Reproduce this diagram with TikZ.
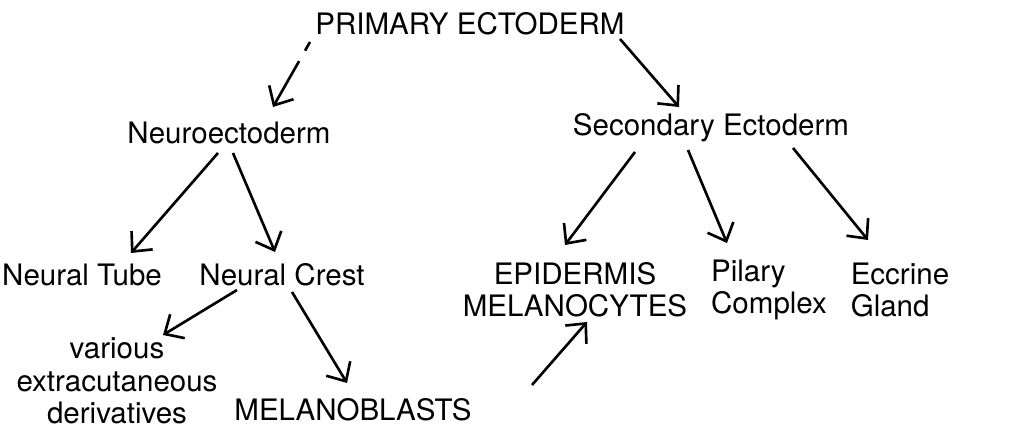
\documentclass[tikz,border=0pt]{standalone}
\usepackage{fontspec}
\setmainfont{TeX Gyre Heros}
\usepackage{tikz}
\usetikzlibrary{arrows.meta}

\begin{document}
\begin{tikzpicture}[
    lbl/.style={inner sep=0pt, align=center, font=\fontsize{8.4}{9.2}\selectfont},
    lbll/.style={lbl, align=left},
    arrow/.style={-{Straight Barb[length=1.5mm, width=2.8mm]}, line width=0.75pt}
]
\useasboundingbox (0,0) rectangle (10.12,4.30);

% Nodes
\node[lbl] (prim) at (4.70, 4.06) {PRIMARY ECTODERM};
\node[lbl] (neuro) at (2.29, 2.97) {Neuroectoderm};
\node[lbl] (second) at (7.11, 3.02) {Secondary Ectoderm};

\node[lbl] (tube) at (0.82, 1.55) {Neural Tube};
\node[lbl] (crest) at (2.82, 1.55) {Neural Crest};
\node[lbl] (epid) at (5.75, 1.40) {EPIDERMIS\\MELANOCYTES};
\node[lbll] (pilary) at (7.69, 1.40) {Pilary\\Complex};
\node[lbll] (eccrine) at (9.00, 1.40) {Eccrine\\Gland};

\node[lbl] (various) at (1.17, 0.49) {various\\extracutaneous\\derivatives};
\node[lbl] (blasts) at (3.53, 0.20) {MELANOBLASTS};

% Connections
\draw[arrow, dash pattern=on 0.1cm off 0.12cm on 2cm] ([shift={(-1.60,-0.18)}]prim.center) -- ([shift={(0.44,0.26)}]neuro.center);
\draw[arrow] ([shift={(1.50,-0.15)}]prim.center) -- ([shift={(-0.32,0.21)}]second.center);

\draw[arrow] ([shift={(-0.11,-0.20)}]neuro.center) -- ([shift={(0.49,0.22)}]tube.center);
\draw[arrow] ([shift={(0.04,-0.20)}]neuro.center) -- ([shift={(-0.07,0.23)}]crest.center);

\draw[arrow] ([shift={(-0.45,-0.15)}]crest.center) -- ([shift={(0.46,0.46)}]various.center);
\draw[arrow] ([shift={(0.10,-0.17)}]crest.center) -- ([shift={(-0.06,0.27)}]blasts.center);
\draw[arrow] ([shift={(1.79,0.25)}]blasts.center) -- ([shift={(0.12,-0.32)}]epid.center);

\draw[arrow] ([shift={(-0.76,-0.24)}]second.center) -- ([shift={(-0.10,0.45)}]epid.center);
\draw[arrow] ([shift={(-0.23,-0.22)}]second.center) -- ([shift={(-0.42,0.47)}]pilary.center);
\draw[arrow] ([shift={(0.82,-0.20)}]second.center) -- ([shift={(-0.32,0.50)}]eccrine.center);

\end{tikzpicture}
\end{document}
